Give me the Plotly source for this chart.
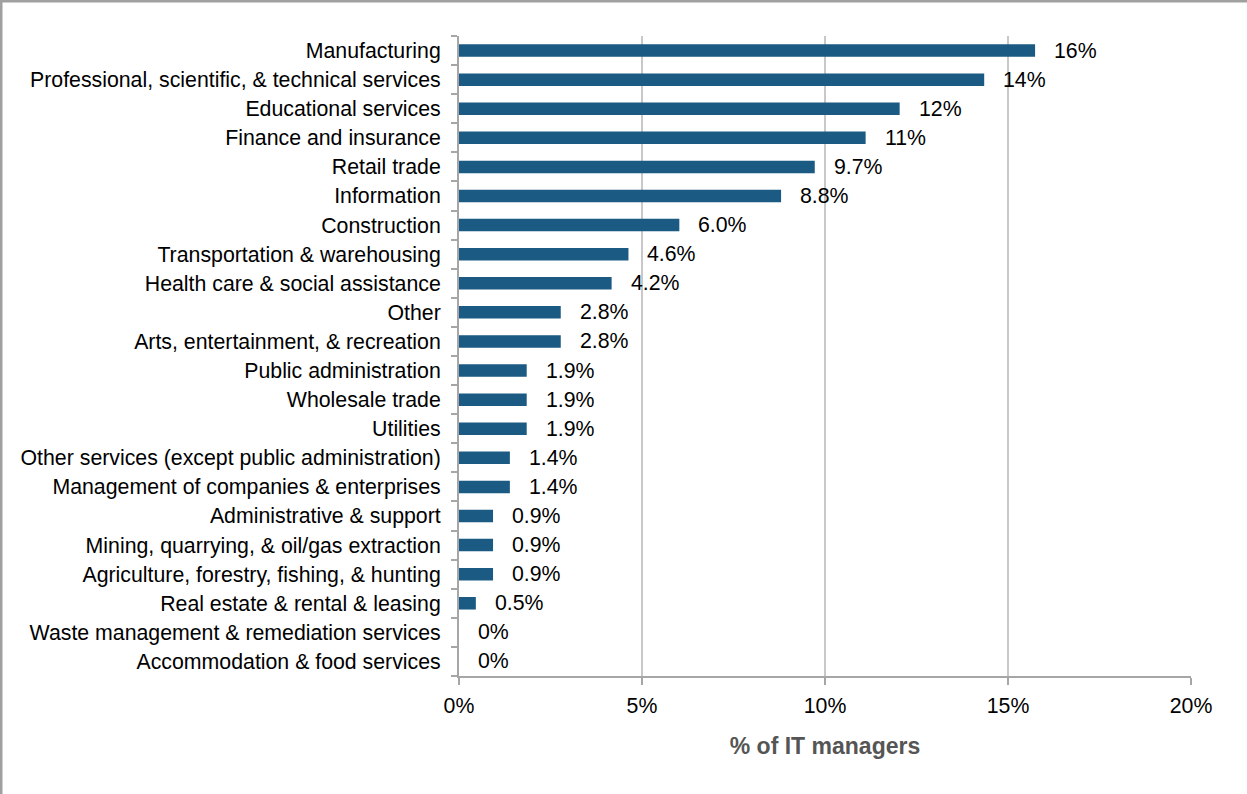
import plotly.graph_objects as go

# Share of IT managers by industry (percent), top to bottom
industries = [
    "Manufacturing",
    "Professional, scientific, & technical services",
    "Educational services",
    "Finance and insurance",
    "Retail trade",
    "Information",
    "Construction",
    "Transportation & warehousing",
    "Health care & social assistance",
    "Other",
    "Arts, entertainment, & recreation",
    "Public administration",
    "Wholesale trade",
    "Utilities",
    "Other services (except public administration)",
    "Management of companies & enterprises",
    "Administrative & support",
    "Mining, quarrying, & oil/gas extraction",
    "Agriculture, forestry, fishing, & hunting",
    "Real estate & rental & leasing",
    "Waste management & remediation services",
    "Accommodation & food services",
]
share_pct = [15.74, 14.35, 12.04, 11.11, 9.72, 8.80, 6.02, 4.63, 4.17, 2.78, 2.78,
             1.85, 1.85, 1.85, 1.39, 1.39, 0.93, 0.93, 0.93, 0.46, 0.0, 0.0]
x_ticks = [0, 5, 10, 15, 20]
x_tick_text = ["0%", "5%", "10%", "15%", "20%"]


def fmt(v):
    # two significant figures, zero shown plainly
    if v == 0:
        return "0%"
    if v >= 10:
        return f"{v:.0f}%"
    return f"{v:.1f}%"


FONT = "Liberation Sans, Arial, sans-serif"
BAR = "#1b5a82"
GRID = "#c8c8c8"
AXIS = "#a6a6a6"
SIZE = 21.3

fig = go.Figure(
    go.Bar(
        x=share_pct,
        y=industries,
        orientation="h",
        marker=dict(color=BAR, line=dict(width=0)),
        width=0.43,
        hoverinfo="skip",
    )
)

for name, v in zip(industries, share_pct):
    fig.add_annotation(
        x=v, y=name, text=fmt(v), showarrow=False,
        xanchor="left", yanchor="middle", xshift=17,
        font=dict(family=FONT, size=SIZE, color="#000000"),
    )

fig.update_layout(
    width=1247, height=794,
    margin=dict(l=459, r=56, t=36, b=118),
    paper_bgcolor="white", plot_bgcolor="white",
    showlegend=False,
    font=dict(family=FONT, size=SIZE, color="#000000"),
    xaxis=dict(
        range=[0, 20], tickvals=x_ticks, ticktext=x_tick_text,
        showgrid=True, gridcolor=GRID, gridwidth=2,
        showline=True, linecolor=AXIS, linewidth=2,
        ticks="outside", ticklen=7, tickcolor=AXIS, tickwidth=2,
        zeroline=False, ticklabelstandoff=2,
        title=dict(text="<b>% of IT managers</b>", standoff=21,
                   font=dict(family=FONT, size=23, color="#555555")),
        fixedrange=True,
    ),
    yaxis=dict(
        categoryorder="array", categoryarray=industries[::-1],
        type="category", tickson="boundaries",
        showline=True, linecolor=AXIS, linewidth=2,
        ticks="outside", ticklen=6, tickcolor=AXIS, tickwidth=2,
        showgrid=False, ticklabelstandoff=12,
        fixedrange=True,
    ),
    shapes=[
        dict(type="line", xref="paper", yref="paper", x0=-459 / 732, x1=1.1,
             y0=1 + 35 / 640, y1=1 + 35 / 640, line=dict(color="#a0a0a0", width=3)),
        dict(type="line", xref="paper", yref="paper", x0=-458 / 732, x1=-458 / 732,
             y0=-0.3, y1=1.1, line=dict(color="#a0a0a0", width=3)),
    ],
)

fig.write_html("out.html")
